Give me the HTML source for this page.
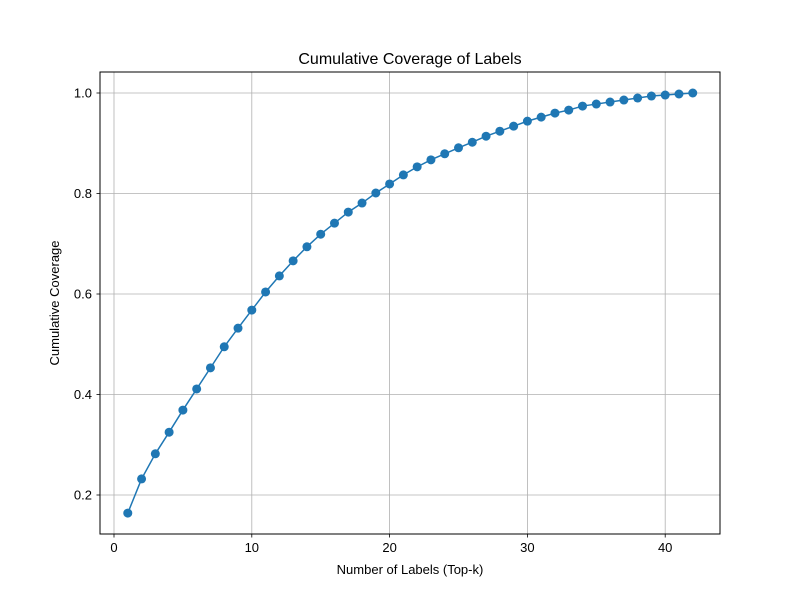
<!DOCTYPE html>
<html><head><meta charset="utf-8"><style>
html,body{margin:0;padding:0;background:#fff;}
svg{display:block;font-family:"Liberation Sans","DejaVu Sans",sans-serif;}
</style></head><body>
<svg id="chart" width="800" height="600" viewBox="0 0 800 600" xmlns="http://www.w3.org/2000/svg">
<rect width="800" height="600" fill="#fff"/>
<text x="410" y="64" font-size="16" text-anchor="middle">Cumulative Coverage of Labels</text>
<text x="410" y="574" font-size="13" text-anchor="middle">Number of Labels (Top-k)</text>
<text x="59" y="303" font-size="13" text-anchor="middle" transform="rotate(-90 59 303)">Cumulative Coverage</text>
<g id="grid"></g><g id="ticks"></g><g id="series"></g>
<rect x="100" y="72" width="620" height="462" fill="none" stroke="#000" stroke-width="1"/>
</svg>
<script>
const coverage = [0.164,0.232,0.282,0.325,0.369,0.411,0.453,0.495,0.532,0.568,0.604,0.636,0.666,0.694,0.719,0.741,0.763,0.781,0.801,0.819,0.837,0.853,0.867,0.879,0.891,0.902,0.914,0.924,0.934,0.944,0.952,0.960,0.966,0.974,0.978,0.982,0.986,0.990,0.994,0.996,0.998,1.0];
const ks = coverage.map((v,i)=>i+1);
const xTicks = [0,10,20,30,40];
const yTicks = [0.2,0.4,0.6,0.8,1.0];
const yTickLabels = ["0.2","0.4","0.6","0.8","1.0"];

const NS="http://www.w3.org/2000/svg";
function xs(v){return 114 + v*13.78;}
function ys(v){return 93 + (1-v)*502.5;}
function mk(tag,attrs,parent){const e=document.createElementNS(NS,tag);for(const k in attrs)e.setAttribute(k,attrs[k]);parent.appendChild(e);return e;}
const grid=document.getElementById('grid'),ticks=document.getElementById('ticks'),series=document.getElementById('series');
xTicks.forEach(t=>{
  const x=xs(t);
  const g=mk('line',{x1:x,x2:x,y1:72,y2:534,stroke:'#b0b0b0','stroke-width':0.8},grid);
  
  
  const tk=mk('line',{x1:x,x2:x,y1:534,y2:537.5,stroke:'#000','stroke-width':0.8},ticks);
  
  
  const tl=mk('text',{x:x,y:552,'font-size':13,'text-anchor':'middle'},ticks);
  tl.textContent=String(t);
  
  
});
yTicks.forEach((t,i)=>{
  const y=ys(t);
  const g=mk('line',{x1:100,x2:720,y1:y,y2:y,stroke:'#b0b0b0','stroke-width':0.8},grid);
  
  
  const tk=mk('line',{x1:96.5,x2:100,y1:y,y2:y,stroke:'#000','stroke-width':0.8},ticks);
  
  
  const tl=mk('text',{x:92,y:y+4.5,'font-size':13,'text-anchor':'end'},ticks);
  tl.textContent=yTickLabels[i];
  
  
});
const pts=coverage.map((v,i)=>xs(ks[i])+','+ys(v)).join(' ');
const line=mk('polyline',{points:pts,fill:'none',stroke:'#1f77b4','stroke-width':1.5},series);


coverage.forEach((v,i)=>{
  const c=mk('circle',{cx:xs(ks[i]),cy:ys(v),r:4.5,fill:'#1f77b4'},series);
  
  
});
</script>
</body></html>
